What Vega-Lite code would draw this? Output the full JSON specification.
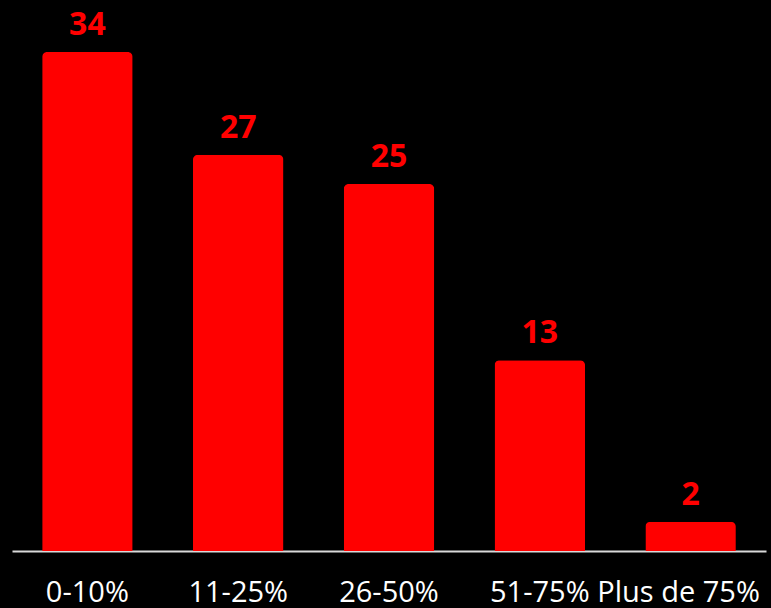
{
  "$schema": "https://vega.github.io/schema/vega-lite/v6.json",
  "autosize": {"type": "none"},
  "width": 754,
  "height": 499,
  "padding": {"left": 12, "top": 52, "right": 5, "bottom": 57},
  "background": "#000000",
  "config": {"view": {"stroke": null}, "font": "Open Sans"},
  "data": {
    "values": [
      {"category": "0-10%", "value": 34},
      {"category": "11-25%", "value": 27},
      {"category": "26-50%", "value": 25},
      {"category": "51-75%", "value": 13},
      {"category": "Plus de 75%", "value": 2}
    ]
  },
  "encoding": {
    "x": {
      "field": "category",
      "type": "nominal",
      "sort": null,
      "scale": {"paddingInner": 0.4, "paddingOuter": 0.2},
      "axis": {
        "title": null,
        "labelAngle": 0,
        "labelColor": "#ffffff",
        "labelFontSize": 29,
        "labelFont": "Open Sans",
        "labelPadding": 27,
        "labelOverlap": false,
        "labelOffset": {"condition": {"test": "datum.value === 'Plus de 75%'", "value": -12}, "value": 0},
        "ticks": false,
        "domainColor": "#d9d9d9",
        "domainWidth": 2,
        "grid": false
      }
    },
    "y": {
      "field": "value",
      "type": "quantitative",
      "scale": {"domain": [0, 34], "nice": false},
      "axis": null
    }
  },
  "layer": [
    {
      "mark": {"type": "bar", "color": "#ff0000", "cornerRadiusTopLeft": 5, "cornerRadiusTopRight": 5}
    },
    {
      "mark": {"type": "text", "color": "#ff0000", "fontSize": 32, "fontWeight": "bold", "font": "Open Sans", "baseline": "alphabetic", "dy": -17},
      "encoding": {"text": {"field": "value", "type": "quantitative"}}
    }
  ]
}
